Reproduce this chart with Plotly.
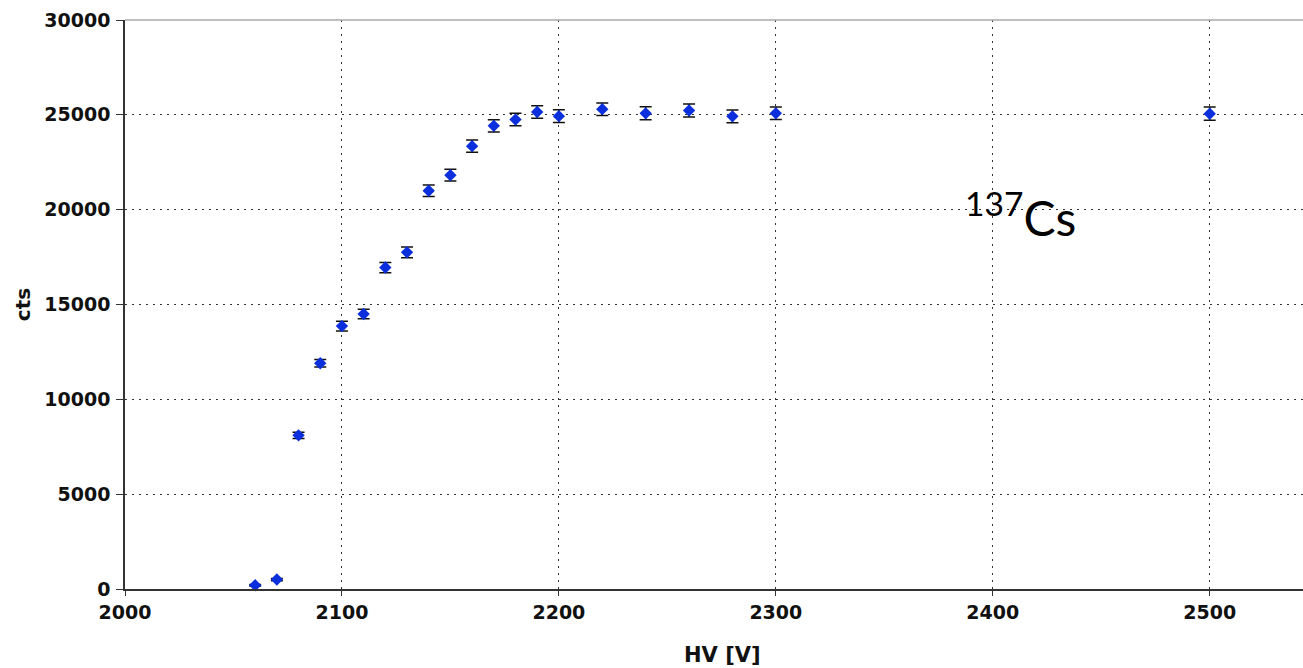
import plotly.graph_objects as go

# Data
hv = [2060, 2070, 2080, 2090, 2100, 2110, 2120, 2130, 2140, 2150, 2160,
      2170, 2180, 2190, 2200, 2220, 2240, 2260, 2280, 2300, 2500]
cts = [200, 500, 8100, 11900, 13860, 14500, 16950, 17750, 21000, 21820, 23350,
       24420, 24750, 25150, 24930, 25300, 25080, 25230, 24920, 25080, 25060]
err = [40, 60, 170, 200, 260, 250, 270, 280, 300, 310, 320,
       320, 330, 330, 340, 330, 340, 340, 340, 330, 350]

x_ticks = [2000, 2100, 2200, 2300, 2400, 2500]
y_ticks = [0, 5000, 10000, 15000, 20000, 25000, 30000]

fig = go.Figure()
fig.add_trace(go.Scatter(
    x=hv, y=cts, mode="markers",
    marker=dict(symbol="diamond", size=9.5, color="#0b2fdc", line=dict(width=0)),
    error_y=dict(type="data", array=err, visible=True, color="#111111",
                 thickness=1.5, width=6),
    showlegend=False, cliponaxis=False,
))

tickfont = dict(family="DejaVu Sans", size=19, color="#111111", weight="bold")
grid = dict(showgrid=True, gridcolor="#333333", gridwidth=1, griddash="2px,5px")

fig.update_layout(
    width=1303, height=668,
    margin=dict(l=125, r=0, t=20, b=79),
    paper_bgcolor="white", plot_bgcolor="white",
    font=dict(family="DejaVu Sans", color="#111111"),
    xaxis=dict(range=[2000, 2543], tickvals=x_ticks, ticktext=[str(v) for v in x_ticks],
               showline=True, linecolor="#333333", linewidth=1.5,
               ticks="outside", ticklen=5, tickcolor="#333333", tickwidth=1,
               tickfont=tickfont, zeroline=False, **grid),
    yaxis=dict(range=[0, 30000], tickvals=y_ticks, ticktext=[str(v) for v in y_ticks],
               showline=True, linecolor="#333333", linewidth=1.5,
               ticks="outside", ticklen=7, tickcolor="#333333", tickwidth=1,
               tickfont=tickfont, zeroline=False, ticklabelstandoff=2,
               title=dict(text="cts", font=dict(family="DejaVu Sans", size=20, weight="bold"),
                          standoff=8),
               **grid),
    shapes=[dict(type="line", xref="paper", yref="paper", x0=0, x1=1, y0=1, y1=1,
                 line=dict(color="#aaaaaa", width=1.5))],
    annotations=[
        dict(text="HV [V]", xref="paper", yref="paper",
             x=(722 - 125) / 1178, y=-(655 - 589) / 569, xanchor="center", yanchor="middle",
             showarrow=False,
             font=dict(family="DejaVu Sans", size=21, color="#111111", weight="bold")),
        dict(text="<sup>137</sup>Cs", xref="paper", yref="paper",
             x=(963 - 125) / 1178, y=(589 - 214) / 569, xanchor="left", yanchor="middle",
             showarrow=False, font=dict(family="Lato", size=48, color="#000000")),
    ],
)

fig.write_html("out.html")
